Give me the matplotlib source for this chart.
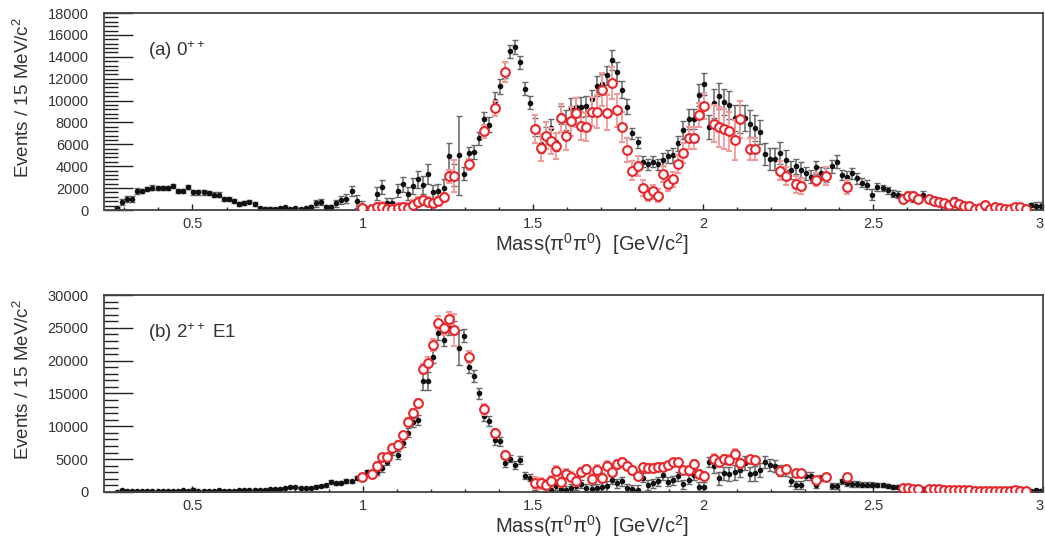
import numpy as np
import matplotlib
matplotlib.use('Agg')
import matplotlib.pyplot as plt
from matplotlib.ticker import MultipleLocator

plt.rcParams['font.family'] = ['Liberation Sans', 'DejaVu Sans']
plt.rcParams['mathtext.fontset'] = 'custom'
plt.rcParams['mathtext.rm'] = 'Liberation Sans'
plt.rcParams['mathtext.it'] = 'Liberation Sans:italic'

# 15 MeV bins, first centre at 0.2775 GeV/c^2
n_bins = 182
mass = 0.2775 + 0.015 * np.arange(n_bins)

# bins in which the red (open circle) points are shown
red_bins = ([48] + list(range(50, 67)) + [69, 72, 74, 76] + list(range(82, 116))
            + list(range(117, 123)) + [124, 125, 130, 131, 133, 134, 137, 139, 143]
            + list(range(154, 158)) + list(range(159, 179)))

# ---- (a) 0++ : values in thousands of events
top_black = [
    0.15, 0.75, 1.0, 1.0, 1.75, 1.75, 1.9, 2.05, 2.0, 2.0, 2.0, 2.2, 1.75, 1.75, 2.1, 1.6,
    1.6, 1.6, 1.55, 1.4, 1.4, 1.0, 1.0, 0.8, 0.55, 0.65, 0.75, 0.55, 0.15, 0.1, 0.1, 0.05,
    0.15, 0.25, 0.05, 0.15, 0.05, 0.15, 0.25, 0.6, 0.75, 0.25, 0.25, 0.6, 0.9, 1.05, 1.7, 0.8,
    0.3, 0.1, 0.2, 1.5, 2.1, 0.6, 0.6, 1.75, 2.35, 1.5, 2.2, 2.8, 2.3, 3.3, 1.6, 1.7,
    2.0, 4.9, 3.2, 5.0, 3.3, 5.2, 5.3, 6.55, 8.3, 7.8, 10.0, 11.3, 12.8, 14.5, 14.9, 13.5,
    11.1, 9.8,
    7.6, 6.0, 6.8, 7.5, 6.2, 8.7, 8.2, 9.3, 9.45, 9.4, 9.5, 10.1, 11.3, 11.5, 12.3, 13.7,
    12.65, 11.0, 9.45, 7.0, 6.2, 4.4, 4.2, 4.4, 4.2, 4.6, 4.9, 5.0, 6.1, 7.3, 8.3, 8.3,
    10.5, 11.5, 7.6,
    9.75, 10.4, 9.9, 9.6, 8.4, 8.3, 8.4, 7.9, 7.5, 7.1, 5.1, 4.7, 4.7, 5.2, 4.6, 3.65,
    4.0, 3.65, 3.35, 3.05, 3.9, 3.35, 3.2, 4.0, 4.4, 3.2, 3.05, 3.35, 2.9, 2.5, 2.3, 1.4,
    2.1, 2.0, 1.8,
    1.5, 1.4, 1.2, 1.3, 1.05, 1.0, 1.4, 1.0, 0.9, 0.75, 0.6, 0.55, 0.9, 0.55, 0.4, 0.4,
    0.05, 0.15, 0.25, 0.05, 0.25, 0.15, 0.05, 0.05, 0.15, 0.15, 0.0, 0.45, 0.4, 0.4]
top_black_err = [
    0.15, 0.25, 0.25, 0.25, 0.25, 0.2, 0.2, 0.2, 0.2, 0.2, 0.2, 0.2, 0.2, 0.2, 0.2, 0.2,
    0.2, 0.2, 0.2, 0.2, 0.2, 0.2, 0.2, 0.2, 0.15, 0.15, 0.15, 0.15, 0.15, 0.15, 0.15, 0.15,
    0.15, 0.15, 0.15, 0.15, 0.15, 0.15, 0.2, 0.3, 0.3, 0.25, 0.25, 0.3, 0.35, 0.4, 0.45, 0.6,
    0.5, 0.3, 0.3, 0.6, 0.6, 0.5, 0.5, 0.6, 0.7, 0.6, 0.7, 0.8, 0.8, 0.9, 0.7, 0.7,
    0.8, 1.2, 1.0, 3.6, 0.6, 0.6, 0.6, 0.6, 0.7, 0.7, 0.8, 0.7, 0.7, 0.6, 0.6, 0.6,
    0.6, 0.6,
    0.8, 0.8, 0.8, 0.8, 0.8, 0.8, 0.9, 0.9, 0.9, 0.9, 0.9, 0.9, 0.9, 0.9, 0.9, 0.9,
    0.9, 0.8, 0.7, 0.5, 0.5, 0.5, 0.5, 0.5, 0.5, 0.6, 0.6, 0.7, 0.7, 0.8, 0.9, 0.9,
    1.0, 1.0, 1.1,
    1.3, 1.2, 1.2, 1.3, 1.2, 1.3, 1.2, 1.2, 1.2, 1.1, 1.0, 1.0, 1.0, 1.0, 0.9, 0.8,
    0.7, 0.7, 0.6, 0.6, 0.6, 0.6, 0.6, 0.6, 0.6, 0.5, 0.5, 0.5, 0.5, 0.4, 0.4, 0.5,
    0.4, 0.3, 0.3,
    0.3, 0.3, 0.3, 0.3, 0.3, 0.3, 0.3, 0.3, 0.3, 0.25, 0.25, 0.25, 0.25, 0.25, 0.2, 0.2,
    0.2, 0.2, 0.2, 0.2, 0.2, 0.2, 0.2, 0.2, 0.2, 0.2, 0.2, 0.2, 0.3, 0.3]
top_red = [
    0.15,
    0.05, 0.25, 0.3, 0.05, 0.05, 0.2, 0.25, 0.2, 0.5, 0.75, 0.9, 0.75, 0.65, 0.8, 1.15, 3.1, 3.1,
    4.2, 7.2, 9.3, 12.6,
    7.4, 5.7, 6.8, 6.3, 5.85, 8.4, 6.8, 8.1, 8.9, 7.7, 7.6, 9.0, 9.0, 11.0, 8.9, 11.6,
    9.1, 7.6, 5.5, 3.6, 4.0, 2.0, 1.4, 1.7, 1.3, 3.3, 2.4, 2.8, 4.2, 5.2, 6.55, 6.55,
    8.7, 9.5,
    7.9, 7.6, 7.4, 7.2, 6.4, 8.3,
    5.6, 5.6,
    3.6, 3.1, 2.35, 2.2, 2.75, 3.1, 2.1,
    1.0, 1.3, 1.3, 1.05,
    1.0, 0.85, 0.75, 0.6, 0.45, 0.75, 0.55, 0.4, 0.4, 0.05, 0.15, 0.5, 0.05, 0.3, 0.15, 0.05,
    0.05, 0.3, 0.3, 0.1]
top_red_err = [
    0.4,
    0.4, 0.4, 0.4, 0.4, 0.4, 0.4, 0.4, 0.4, 0.4, 0.4, 0.4, 0.4, 0.4, 0.4, 0.4, 0.6, 1.5,
    0.5, 0.6, 0.7, 0.9,
    1.3, 1.2, 1.2, 1.2, 1.2, 1.3, 1.3, 1.3, 1.3, 1.3, 1.3, 1.3, 1.5, 1.5, 1.6, 1.5,
    1.5, 1.4, 1.1, 0.9, 0.9, 0.7, 0.6, 0.6, 0.6, 0.7, 0.7, 0.7, 0.8, 0.9, 1.0, 1.0,
    1.1, 1.2,
    1.7, 1.8, 1.8, 1.8, 1.8, 1.7,
    1.0, 1.0,
    0.9, 0.8, 0.8, 0.7, 0.6, 0.8, 0.6,
    0.3, 0.3, 0.3, 0.3,
    0.3, 0.3, 0.25, 0.25, 0.25, 0.25, 0.2, 0.2, 0.2, 0.2, 0.2, 0.2, 0.2, 0.2, 0.2, 0.2,
    0.2, 0.2, 0.2, 0.2]

# ---- (b) 2++ E1 : values in thousands of events
bot_black = [
    0.05, 0.35, 0.2, 0.15, 0.15, 0.1, 0.15, 0.15, 0.1, 0.15, 0.2, 0.15, 0.2, 0.25, 0.15, 0.3,
    0.1, 0.2, 0.15, 0.1, 0.25, 0.2, 0.2, 0.2, 0.25, 0.3, 0.3, 0.3, 0.3, 0.3, 0.4, 0.45,
    0.5, 0.6, 0.7, 0.75, 0.6, 0.55, 0.65, 0.8, 0.9, 1.0, 1.55, 1.3, 1.4, 1.7, 1.6, 2.2,
    2.3, 3.0, 2.7, 3.0, 3.6, 4.6, 6.2, 5.7, 7.4, 9.0, 10.6, 11.0, 16.9, 16.9, 20.6, 24.2,
    23.2, 24.9, 25.0, 22.0, 23.8, 19.1, 17.7, 15.0, 11.5, 10.8, 7.9, 7.7, 4.4, 5.1, 4.1, 4.9,
    2.5, 2.2, 0.8,
    1.07, 0.56, 0.3, 0.9, 0.5, 0.3, 0.55, 0.9, 1.2, 0.55, 0.4, 0.55, 0.8, 0.9, 1.9, 1.3,
    1.6, 0.55, 0.4, 0.3, 2.2, 1.07, 1.3, 1.6, 2.6, 1.55, 1.8, 2.4, 1.2, 1.9, 2.6, 0.8,
    0.8, 4.6,
    3.9, 2.1, 2.85, 2.75, 3.0, 3.35, 4.4, 2.75, 2.85, 3.35, 4.6, 4.1, 3.9, 3.25, 3.2, 1.6,
    1.07, 1.07, 2.45, 2.45, 1.07, 2.1, 2.45, 0.9, 0.9, 1.6, 1.3, 1.2, 1.2, 1.1, 1.1, 1.1,
    1.0, 1.0, 0.95,
    0.8, 0.8, 0.7, 0.6, 0.6, 0.55, 0.5, 0.5, 0.45, 0.45, 0.45, 0.4, 0.35, 0.35, 0.3, 0.3,
    0.3, 0.25, 0.2, 0.2, 0.2, 0.2, 0.2, 0.2, 0.25, 0.2, 0.2, 0.15, 0.3, 0.2]
bot_black_err = [
    0.1, 0.15, 0.1, 0.1, 0.1, 0.1, 0.1, 0.1, 0.1, 0.1, 0.1, 0.1, 0.1, 0.1, 0.1, 0.3,
    0.1, 0.1, 0.1, 0.1, 0.1, 0.1, 0.1, 0.1, 0.1, 0.1, 0.1, 0.1, 0.1, 0.1, 0.15, 0.15,
    0.15, 0.15, 0.15, 0.15, 0.15, 0.15, 0.15, 0.2, 0.2, 0.2, 0.25, 0.25, 0.25, 0.3, 0.3, 0.3,
    0.4, 0.4, 0.4, 0.4, 0.5, 0.5, 0.6, 0.6, 0.6, 0.7, 0.7, 0.8, 1.3, 1.3, 1.0, 1.0,
    1.0, 1.0, 1.0, 2.6, 1.0, 1.0, 0.9, 0.8, 0.7, 0.7, 0.7, 0.7, 0.6, 0.6, 0.6, 0.6,
    0.5, 0.5, 0.5,
    0.5, 0.5, 0.5, 0.6, 0.6, 0.6, 0.6, 0.6, 0.6, 0.6, 0.6, 0.6, 0.7, 0.7, 0.7, 0.7,
    0.7, 0.7, 0.7, 0.7, 0.7, 0.7, 0.7, 0.7, 0.7, 0.7, 0.7, 0.7, 0.7, 0.7, 0.7, 0.7,
    0.7, 0.8,
    1.0, 1.0, 1.0, 1.0, 1.1, 1.1, 1.1, 1.1, 1.1, 1.1, 0.9, 0.9, 0.9, 0.8, 0.8, 0.7,
    0.6, 0.6, 0.6, 0.6, 0.5, 0.5, 0.5, 0.5, 0.5, 0.4, 0.4, 0.4, 0.4, 0.35, 0.35, 0.35,
    0.3, 0.3, 0.3,
    0.3, 0.3, 0.3, 0.3, 0.25, 0.25, 0.25, 0.25, 0.25, 0.25, 0.2, 0.2, 0.2, 0.2, 0.2, 0.2,
    0.2, 0.2, 0.2, 0.2, 0.2, 0.2, 0.2, 0.2, 0.2, 0.2, 0.2, 0.2, 0.2, 0.2]
bot_red = [
    2.3,
    2.7, 4.0, 5.3, 5.3, 6.7, 7.2, 8.7, 10.6, 12.1, 13.5, 18.7, 19.7, 22.4, 25.8, 24.9, 26.4, 24.7,
    20.5, 12.6, 9.0, 5.7,
    1.4, 1.3, 1.07, 1.6, 3.2, 1.5, 2.8, 2.3, 1.6, 3.0, 3.45, 2.0, 3.35, 2.2, 4.0, 3.0,
    4.2, 4.5, 4.0, 3.35, 2.45, 3.75, 3.7, 3.7, 3.85, 3.85, 4.1, 4.6, 4.5, 3.35, 3.35, 4.2,
    2.75, 2.5,
    5.1, 4.5, 5.0, 4.9, 5.8, 4.4,
    5.0, 4.9,
    3.2, 3.5, 2.95, 2.95, 1.8, 2.35, 2.35,
    0.65, 0.55, 0.5, 0.5,
    0.5, 0.45, 0.4, 0.35, 0.35, 0.3, 0.3, 0.25, 0.25, 0.2, 0.15, 0.15, 0.15, 0.15, 0.2, 0.15,
    0.15, 0.25, 0.15, 0.15]
bot_red_err = [
    0.5,
    0.5, 0.5, 0.5, 0.5, 0.5, 0.5, 0.5, 0.6, 0.6, 0.7, 0.8, 0.8, 0.9, 1.0, 1.0, 1.0, 2.4,
    0.9, 0.8, 0.6, 0.5,
    0.9, 0.8, 0.8, 0.8, 0.7, 0.8, 0.7, 0.7, 0.7, 0.7, 0.7, 0.7, 0.7, 0.7, 0.7, 0.7,
    0.7, 0.7, 0.6, 0.6, 0.6, 0.5, 0.5, 0.5, 0.5, 0.5, 0.5, 0.5, 0.5, 0.5, 0.6, 0.6,
    0.6, 0.6,
    0.7, 0.7, 0.7, 0.8, 0.7, 0.7,
    0.5, 0.5,
    0.5, 0.5, 0.4, 0.4, 0.4, 0.4, 0.4,
    0.2, 0.2, 0.2, 0.2,
    0.2, 0.2, 0.2, 0.2, 0.2, 0.2, 0.2, 0.2, 0.2, 0.2, 0.2, 0.2, 0.2, 0.2, 0.2, 0.2,
    0.2, 0.2, 0.2, 0.2]

for name, arr, n in [('top_black', top_black, n_bins), ('top_black_err', top_black_err, n_bins),
                     ('bot_black', bot_black, n_bins), ('bot_black_err', bot_black_err, n_bins),
                     ('top_red', top_red, len(red_bins)), ('top_red_err', top_red_err, len(red_bins)),
                     ('bot_red', bot_red, len(red_bins)), ('bot_red_err', bot_red_err, len(red_bins))]:
    assert len(arr) == n, (name, len(arr), n)

panels = [
    ('(a) 0$^{++}$', top_black, top_black_err, top_red, top_red_err, 18000, 2000, 400),
    ('(b) 2$^{++}$ E1', bot_black, bot_black_err, bot_red, bot_red_err, 30000, 5000, 1000),
]

txt_col = '#333333'
fig = plt.figure(figsize=(10.45, 5.40), dpi=100)
axes = [fig.add_axes([0.0995, 0.6111, 0.8990, 0.3648]),
        fig.add_axes([0.0995, 0.0889, 0.8990, 0.3648])]

red_mass = mass[red_bins]
for ax, (label, blk, blk_err, red, red_err, ymax, ymaj, ymin) in zip(axes, panels):
    blk = np.array(blk) * 1000
    blk_err = np.array(blk_err) * 1000
    red = np.array(red) * 1000
    red_err = np.array(red_err) * 1000

    ax.errorbar(mass, blk, yerr=blk_err, fmt='o', ms=3.0, color='#111111',
                ecolor='#666666', elinewidth=1.1, capsize=2.2, capthick=1.0, zorder=2)
    ax.errorbar(red_mass, red, yerr=red_err, fmt='o', ms=6.3, mfc='white',
                mec='#e8262b', mew=1.5, ecolor='#f29a9a', elinewidth=1.3,
                capsize=2.4, capthick=1.1, zorder=3)

    ax.set_xlim(0.24, 3.0)
    ax.set_ylim(0, ymax)
    ax.xaxis.set_minor_locator(MultipleLocator(0.1))
    ax.yaxis.set_major_locator(MultipleLocator(ymaj))
    ax.yaxis.set_minor_locator(MultipleLocator(ymin))
    ax.set_xticks([0.5, 1, 1.5, 2, 2.5, 3])
    ax.set_xticklabels(['0.5', '1', '1.5', '2', '2.5', '3'])
    ax.get_xticklabels()[-1].set_ha('right')

    ax.tick_params(axis='x', which='major', direction='in', length=4.5, width=1.0,
                   pad=5, labelsize=10.5, colors='#222222', labelcolor=txt_col)
    ax.tick_params(axis='x', which='minor', direction='in', length=2.5, width=1.0,
                   colors='#222222')
    ax.tick_params(axis='y', which='major', direction='in', length=21, width=1.0,
                   pad=11, labelsize=10.5, colors='#222222', labelcolor=txt_col)
    ax.tick_params(axis='y', which='minor', direction='in', length=10, width=1.0,
                   colors='#222222')
    ax.tick_params(top=False, right=False, which='both')
    for sp in ax.spines.values():
        sp.set_color('#444444')
        sp.set_linewidth(1.3)

    ax.set_ylabel('Events / 15 MeV/c$^2$', fontsize=13.5, color=txt_col)
    ax.yaxis.set_label_coords(-0.076, 0.57)
    ax.set_xlabel('Mass(\u03c0$^0$\u03c0$^0$)  [GeV/c$^2$]', fontsize=14.5, color=txt_col)
    ax.xaxis.set_label_coords(0.519, -0.108)
    ax.text(0.047, 0.81, label, transform=ax.transAxes, fontsize=13.5,
            color=txt_col, va='center', ha='left')

fig.savefig('out.png', dpi=100)
